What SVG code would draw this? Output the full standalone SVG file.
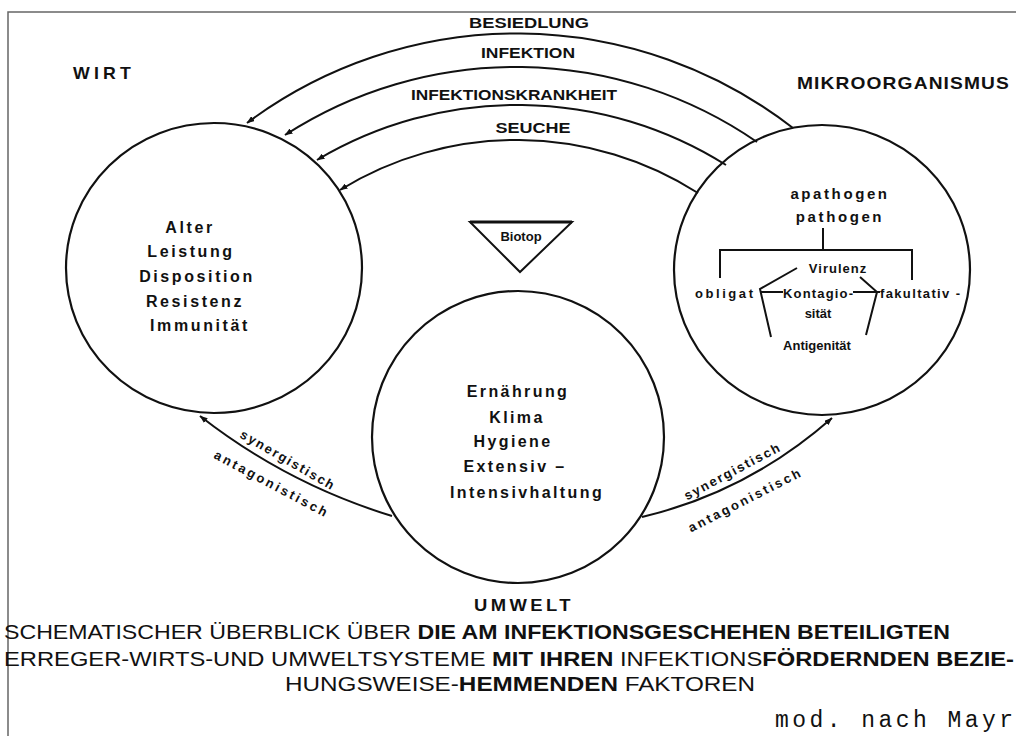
<svg xmlns="http://www.w3.org/2000/svg" width="1016" height="736" viewBox="0 0 1016 736">
<defs>
<marker id="ah" viewBox="0 0 8 6" refX="7.5" refY="3" markerWidth="8" markerHeight="6" markerUnits="userSpaceOnUse" orient="auto">
<path d="M0,0 L8,3 L0,6 z" fill="#111"/>
</marker>
<style>
.c{fill:none;stroke:#111;stroke-width:2.2}
.ln{fill:none;stroke:#111;stroke-width:2}
.cn{fill:none;stroke:#111;stroke-width:2;marker-end:url(#ah)}
.sp{font-family:"Liberation Sans",Arial,sans-serif;font-weight:bold;fill:#111;text-anchor:middle}
.lb{font-family:"Liberation Sans",Arial,sans-serif;font-weight:bold;fill:#111}
.cap{font-family:"Liberation Sans",Arial,sans-serif;fill:#111;font-size:21px}
.mono{font-family:"Liberation Mono","Courier New",monospace;fill:#111}
</style>
</defs>
<rect width="1016" height="736" fill="#fff"/>
<path d="M8,736 V12 H1016" fill="none" stroke="#666" stroke-width="1.5"/>

<g id="wirt">
<ellipse class="c" cx="214" cy="268" rx="148" ry="145"/>
<text class="lb" x="73" y="79" font-size="17" letter-spacing="4" textLength="62" lengthAdjust="spacingAndGlyphs">WIRT</text>
<g class="sp" font-size="16" letter-spacing="2.6">
<text x="190" y="233">Alter</text>
<text x="191" y="257">Leistung</text>
<text x="197" y="282">Disposition</text>
<text x="195" y="307">Resistenz</text>
<text x="200" y="331">Immunität</text>
</g>
</g>

<g id="mikroorganismus">
<ellipse class="c" cx="822" cy="270" rx="148" ry="145"/>
<text class="lb" x="797" y="89" font-size="17" letter-spacing="1" textLength="213" lengthAdjust="spacingAndGlyphs">MIKROORGANISMUS</text>
<g class="sp" font-size="15" letter-spacing="2.6">
<text x="840" y="199">apathogen</text>
<text x="840" y="222">pathogen</text>
</g>
<path class="ln" d="M823,228 V250 M720,278 V250 H912 V280"/>
<path class="ln" d="M797,268 L760,289 L771,337 M860,277 L877,292 L866,335 M760,292 H783 M853,292 H880"/>
<g class="lb" font-size="13">
<text x="838" y="273" text-anchor="middle" letter-spacing="1">Virulenz</text>
<text x="695" y="298" textLength="58">obligat</text>
<text x="783" y="298" textLength="70">Kontagio-</text>
<text x="880" y="298" textLength="80">fakultativ -</text>
<text x="818" y="318" text-anchor="middle">sität</text>
<text x="817" y="350" text-anchor="middle">Antigenität</text>
</g>
</g>

<g id="umwelt">
<ellipse class="c" cx="518" cy="437" rx="146" ry="146"/>
<g class="sp" font-size="16" letter-spacing="2.4">
<text x="518" y="397">Ernährung</text>
<text x="517" y="423">Klima</text>
<text x="513" y="447">Hygiene</text>
<text x="515" y="472">Extensiv –</text>
<text x="527" y="498">Intensivhaltung</text>
</g>
<text class="lb" x="474" y="611" font-size="16" letter-spacing="3" textLength="100" lengthAdjust="spacingAndGlyphs">UMWELT</text>
</g>

<g id="biotop">
<path d="M470,222 H572 L520,272 Z" fill="none" stroke="#111" stroke-width="2"/>
<line x1="470" y1="222" x2="572" y2="222" stroke="#111" stroke-width="3"/>
<text class="sp" x="521" y="241" font-size="13">Biotop</text>
</g>

<g id="connectors">
<path class="cn" d="M793,128 A451,451 0 0 0 247,123"/>
<path class="cn" d="M757,142 A425,425 0 0 0 285,135"/>
<path class="cn" d="M726,165 A392,392 0 0 0 317,160"/>
<path class="cn" d="M698,193 A337,337 0 0 0 340,190"/>
<path class="cn" d="M392,516 Q287,484 200,416"/>
<path class="cn" d="M642,517 Q748,492 832,418"/>
</g>

<g id="connector-labels">
<g class="lb" font-size="14" text-anchor="middle">
<text x="529" y="28" textLength="120" lengthAdjust="spacingAndGlyphs">BESIEDLUNG</text>
<text x="528" y="58" textLength="94" lengthAdjust="spacingAndGlyphs">INFEKTION</text>
<text x="514" y="100" textLength="206" lengthAdjust="spacingAndGlyphs">INFEKTIONSKRANKHEIT</text>
<text x="533" y="133" textLength="75" lengthAdjust="spacingAndGlyphs">SEUCHE</text>
</g>
<g class="lb" font-size="13" text-anchor="middle">
<text transform="translate(287,460) rotate(30)" y="4" textLength="106">synergistisch</text>
<text transform="translate(271,483) rotate(28)" y="5" textLength="126">antagonistisch</text>
<text transform="translate(732,472) rotate(-28)" y="4" textLength="106">synergistisch</text>
<text transform="translate(744,500) rotate(-27)" y="5" textLength="124">antagonistisch</text>
</g>
</g>

<g id="caption">
<text class="cap" x="4" y="639" textLength="946" lengthAdjust="spacingAndGlyphs">SCHEMATISCHER ÜBERBLICK ÜBER <tspan font-weight="bold">DIE AM INFEKTIONSGESCHEHEN BETEILIGTEN</tspan></text>
<text class="cap" x="4" y="666" textLength="1010" lengthAdjust="spacingAndGlyphs">ERREGER-WIRTS-UND UMWELTSYSTEME <tspan font-weight="bold">MIT IHREN</tspan> INFEKTIONS<tspan font-weight="bold">FÖRDERNDEN BEZIE-</tspan></text>
<text class="cap" x="285" y="691" textLength="470" lengthAdjust="spacingAndGlyphs">HUNGSWEISE-<tspan font-weight="bold">HEMMENDEN</tspan> FAKTOREN</text>
<text class="mono" x="775" y="727" font-size="23" textLength="238">mod. nach Mayr</text>
</g>
</svg>
